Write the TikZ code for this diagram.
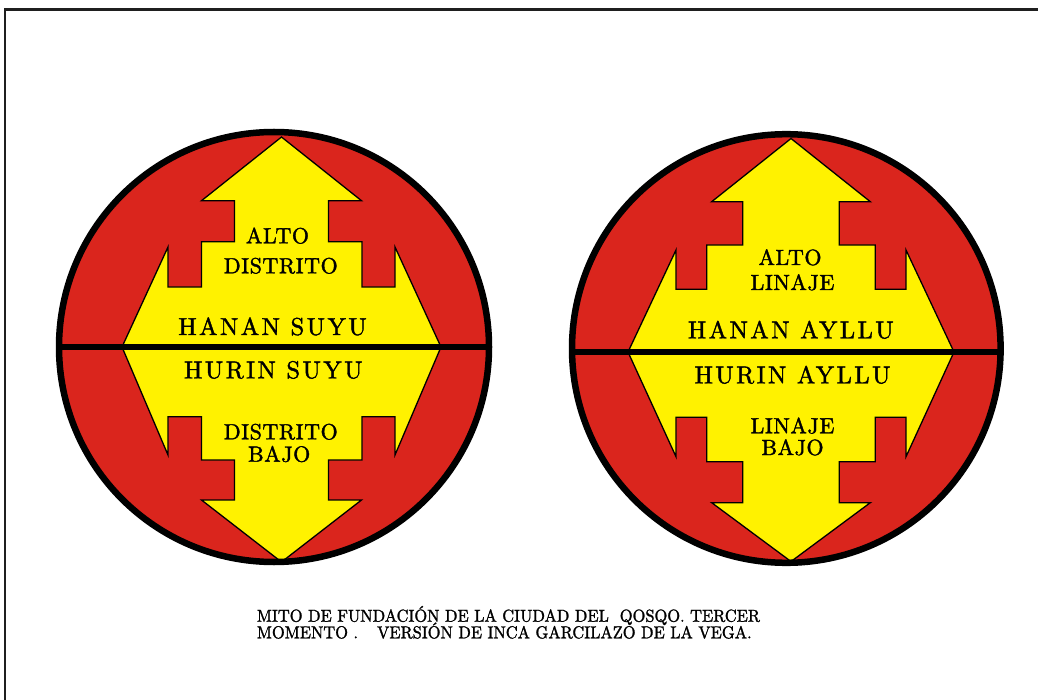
\documentclass[tikz,border=0pt]{standalone}
\usepackage{fontspec}
\newfontfamily\smallfont{lmroman10-regular.otf}[LetterSpace=2.5, FakeBold=1.6]
\newfontfamily\bigfont{lmroman10-regular.otf}[LetterSpace=10, FakeBold=1.6]
\newfontfamily\captfont{lmroman10-regular.otf}[FakeStretch=0.95, FakeBold=1.4]
\definecolor{dred}{HTML}{DA251D}
\definecolor{dyel}{HTML}{FFF200}
\tikzset{
  disc/.style={fill=dred},
  ring/.style={draw=black, line width=6.5pt},
  cross/.style={fill=dyel, draw=black, line width=1.3pt, line join=miter},
  bar/.style={draw=black, line width=6pt},
  frameline/.style={draw=black!88, line width=2.5pt},
  small/.style={font=\smallfont\fontsize{22}{24}\selectfont, anchor=base, inner sep=0pt},
  big/.style={font=\bigfont\fontsize{24.5}{26}\selectfont, anchor=base, inner sep=0pt},
  capt/.style={font=\captfont\fontsize{17.3}{19}\selectfont, anchor=base west, inner sep=0pt},
}
\begin{document}
\begin{tikzpicture}[x=1pt,y=-1pt]
\useasboundingbox (0,0) rectangle (1038,700);
\fill[white] (0,0) rectangle (1038,700);
% frame
\draw[frameline] (5,700) -- (5,9.5) -- (1038,9.5);

% ---------- left emblem ----------
\coordinate (lc) at (274,347);
\fill[disc] (lc) circle (215);
\draw[cross] (122,347) -- (168,247) -- (168,287) -- (201.5,287) -- (201.5,241.7) -- (234.5,241.7) -- (234.5,200.7) -- (201.5,200.7)
  -- (281.5,137) -- (361.5,200.7) -- (328.5,200.7) -- (328.5,241.7) -- (362,241.7) -- (362,287) -- (395,287) -- (395,247)
  -- (441,347) -- (395,455) -- (395,416.7) -- (362,416.7) -- (362,460) -- (328.5,460) -- (328.5,500) -- (361.5,500)
  -- (281.5,562) -- (201.5,500) -- (234.5,500) -- (234.5,460) -- (201.5,460) -- (201.5,416.7) -- (168,416.7) -- (168,455) -- cycle;
\draw[bar] (59,347) -- (489,347);
\draw[ring] (lc) circle (215);

\node[small] (l1) at (277.5,243.3) {ALTO};
\node[small] (l2) at (280.8,273.3) {DISTRITO};
\node[big]   (l3) at (272.5,335) {HANAN SUYU};
\node[big]   (l4) at (273.3,378.3) {HURIN SUYU};
\node[small] (l5) at (280.8,439.3) {DISTRITO};
\node[small] (l6) at (279.2,461.7) {BAJO};

% ---------- right emblem ----------
\coordinate (rc) at (786.3,348.5);
\fill[disc] (rc) circle (214.3);
\draw[cross] (628,352) -- (676,250) -- (676,289.3) -- (706.7,289.3) -- (706.7,245) -- (742.7,245) -- (742.7,201.7) -- (711.7,201.7)
  -- (791,138.5) -- (870.3,201.7) -- (839.3,201.7) -- (839.3,245) -- (875.3,245) -- (875.3,289.3) -- (906,289.3) -- (906,250)
  -- (954,352) -- (906,456.7) -- (906,417.3) -- (875.3,417.3) -- (875.3,461.7) -- (839.3,461.7) -- (839.3,502.7) -- (870.3,502.7)
  -- (791,561.5) -- (711.7,502.7) -- (742.7,502.7) -- (742.7,461.7) -- (706.7,461.7) -- (706.7,417.3) -- (676,417.3) -- (676,456.7) -- cycle;
\draw[bar] (573,352) -- (1000,352);
\draw[ring] (rc) circle (214.3);

\node[small] (r1) at (790,265) {ALTO};
\node[small] (r2) at (792.5,290) {LINAJE};
\node[big]   (r3) at (790.8,338.3) {HANAN AYLLU};
\node[big]   (r4) at (792.5,383.3) {HURIN AYLLU};
\node[small] (r5) at (792.5,433.3) {LINAJE};
\node[small] (r6) at (792.5,455) {BAJO};

% ---------- caption ----------
\node[capt] (c1) at (256.7,621.7) {MITO DE FUNDACIÓN DE LA CIUDAD DEL\ \ QOSQO. TERCER};
\node[capt] (c2) at (256.7,638.3) {MOMENTO .\hspace{1.1em}VERSIÓN DE INCA GARCILAZO DE LA VEGA.};
\end{tikzpicture}
\end{document}
